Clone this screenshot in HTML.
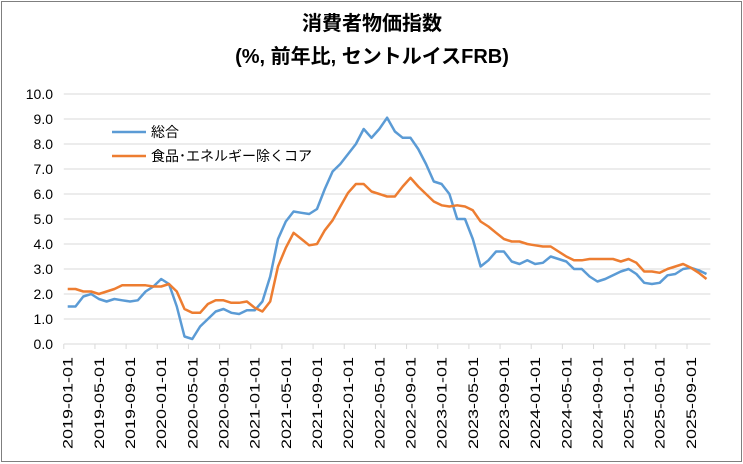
<!DOCTYPE html>
<html><head><meta charset="utf-8"><style>
html,body{margin:0;padding:0;background:#fff;}
svg{display:block;font-family:"Liberation Sans","Noto Sans CJK JP",sans-serif;}
</style></head><body>
<svg id="chart" width="743" height="464">
<rect x="1.5" y="1.5" width="740" height="460" fill="#fff" stroke="#7f7f7f"/>
<text x="372" y="30" text-anchor="middle" font-size="20" font-weight="bold">消費者物価指数</text>
<text x="372" y="63" text-anchor="middle" font-size="20" font-weight="bold">(%, 前年比, セントルイスFRB)</text>
<g id="grid"></g><g id="yticks"></g><g id="xticks"></g><g id="series"></g>
<g>
<line x1="112" y1="132" x2="146" y2="132" stroke="#5b9bd5" stroke-width="2.5"/>
<text x="151" y="137" font-size="14">総合</text>
<line x1="112" y1="156" x2="146" y2="156" stroke="#ed7d31" stroke-width="2.5"/>
<text x="151" y="161" font-size="14">食品･エネルギー除くコア</text>
</g>
</svg>
<script>
const headline=[1.5,1.5,1.9,2.0,1.8,1.7,1.8,1.75,1.7,1.75,2.1,2.3,2.6,2.4,1.5,0.3,0.2,0.7,1.0,1.3,1.4,1.25,1.2,1.35,1.35,1.7,2.7,4.2,4.9,5.3,5.25,5.2,5.4,6.2,6.9,7.2,7.6,8.0,8.6,8.25,8.6,9.05,8.5,8.25,8.25,7.8,7.2,6.5,6.4,6.0,5.0,5.0,4.2,3.1,3.35,3.7,3.7,3.3,3.2,3.35,3.2,3.25,3.5,3.4,3.3,3.0,3.0,2.7,2.5,2.6,2.75,2.9,3.0,2.8,2.45,2.4,2.45,2.75,2.8,3.0,3.05,2.95,2.8];
const core=[2.2,2.2,2.1,2.1,2.0,2.1,2.2,2.35,2.35,2.35,2.35,2.3,2.3,2.4,2.1,1.4,1.25,1.25,1.6,1.75,1.75,1.65,1.65,1.7,1.45,1.3,1.7,3.1,3.85,4.45,4.2,3.95,4.0,4.55,4.95,5.5,6.05,6.4,6.4,6.1,6.0,5.9,5.9,6.3,6.65,6.3,6.0,5.7,5.55,5.5,5.55,5.5,5.35,4.9,4.7,4.45,4.2,4.1,4.1,4.0,3.95,3.9,3.9,3.7,3.5,3.35,3.35,3.4,3.4,3.4,3.4,3.3,3.4,3.25,2.9,2.9,2.85,3.0,3.1,3.2,3.05,2.85,2.6];
const yTicks=[0,1,2,3,4,5,6,7,8,9,10];
const startYear=2019, startMonth=1;
const NS="http://www.w3.org/2000/svg";
const x0=63.8, step=7.79, n=headline.length;
const px=i=>x0+step*(i+0.5);
const py=v=>344-25*v;
function mk(t,a,p){const e=document.createElementNS(NS,t);for(const k in a)e.setAttribute(k,a[k]);(p||document.getElementById('chart')).appendChild(e);return e;}
const grid=document.getElementById('grid'),yt=document.getElementById('yticks'),xt=document.getElementById('xticks'),ser=document.getElementById('series');
const xEnd=x0+step*n;
yTicks.forEach(v=>{
 if(v>0){const l=mk('line',{x1:x0,x2:xEnd,y1:py(v),y2:py(v),stroke:'#d9d9d9','stroke-width':1},grid);
 
 }
 const t=mk('text',{x:53,y:py(v)+5,'text-anchor':'end','font-size':14},yt);
 t.textContent=v.toFixed(1);
 
 
});
const ax=mk('line',{x1:x0,x2:xEnd,y1:344,y2:344,stroke:'#d9d9d9','stroke-width':1},xt);


for(let i=0;i<n;i+=4){
 const tx=x0+step*i;
 const tk=mk('line',{x1:tx,x2:tx,y1:344,y2:349,stroke:'#d9d9d9'},xt);
 
 
 const m=startMonth-1+i, yr=startYear+Math.floor(m/12), mo=m%12+1;
 const lbl=yr+'-'+String(mo).padStart(2,'0')+'-01';
 const t=mk('text',{x:0,y:0,'font-size':14,'text-anchor':'end',textLength:92,lengthAdjust:'spacingAndGlyphs',transform:`translate(${px(i)+5},357) rotate(-90)`},xt);
 t.textContent=lbl;
 
 
}
function line(d,c,name){
 const p=mk('polyline',{points:d.map((v,i)=>px(i).toFixed(1)+','+py(v).toFixed(1)).join(' '),fill:'none',stroke:c,'stroke-width':2.5,'stroke-linejoin':'round'},ser);
 
 
}
line(headline,'#5b9bd5','headline-cpi-line');
line(core,'#ed7d31','core-cpi-line');
</script>
</body></html>
